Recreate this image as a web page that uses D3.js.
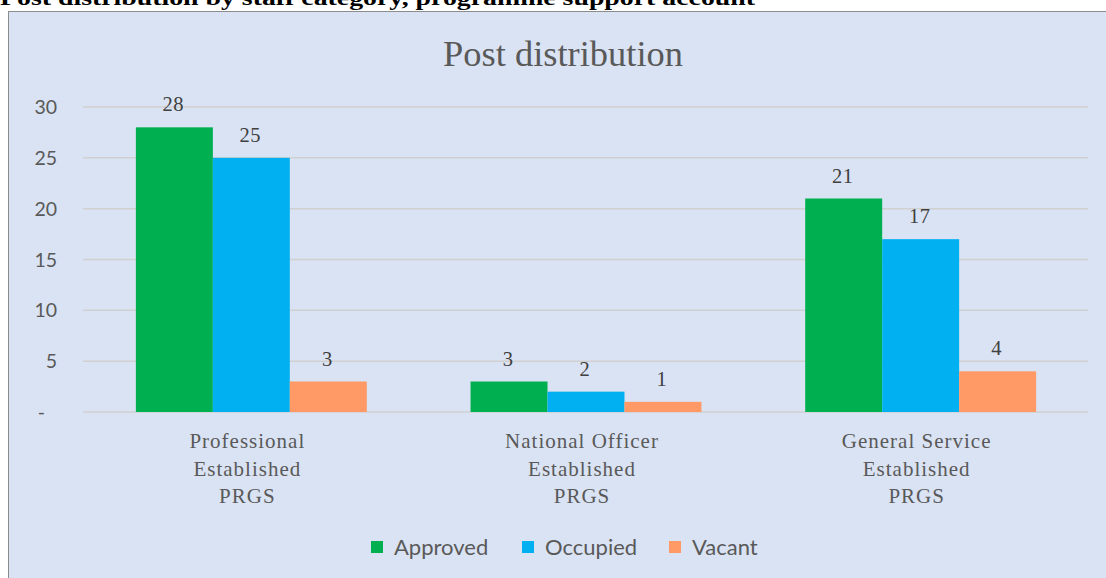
<!DOCTYPE html>
<html>
<head>
<meta charset="utf-8">
<script src="https://cdn.jsdelivr.net/npm/d3@7"></script>
<style>
body { margin: 0; background: #fff; overflow: hidden; }
</style>
</head>
<body>
<svg id="chart" width="1106" height="578"></svg>
<script>
const categories = [["Professional", "Established", "PRGS"], ["National Officer", "Established", "PRGS"], ["General Service", "Established", "PRGS"]];
const seriesNames = ["Approved", "Occupied", "Vacant"];
const approved = [28, 3, 21];
const occupied = [25, 2, 17];
const vacant = [3, 1, 4];
const yTicks = [0, 5, 10, 15, 20, 25, 30];
const colors = ["#00B050", "#00B0F0", "#FF9966"];

const svg = d3.select("#chart");
const sans = "Lato, 'Open Sans', sans-serif";
const serif = "'Liberation Serif', 'DejaVu Serif', serif";

// page heading, cut off at the top like the source
svg.append("text").attr("x", 0).attr("y", 5).attr("font-family", serif).attr("font-weight", "bold")
    .attr("font-size", 22).attr("textLength", 755).attr("lengthAdjust", "spacingAndGlyphs")
    .text("Post distribution by staff category, programme support account");

// chart box
svg.append("rect").attr("x", 8.5).attr("y", 11.5).attr("width", 1110).attr("height", 580)
    .attr("fill", "#DAE3F3").attr("stroke", "#8c8c8c").attr("stroke-width", 1);

svg.append("text").attr("x", 563).attr("y", 66).attr("text-anchor", "middle")
    .attr("font-family", serif).attr("font-size", 35).attr("fill", "#595959")
    .attr("textLength", 240).attr("lengthAdjust", "spacingAndGlyphs").text("Post distribution");

const x0 = d3.scaleBand().domain(d3.range(categories.length)).range([84, 1088]).paddingInner(0.31).paddingOuter(0.155);
const x1 = d3.scaleBand().domain(seriesNames).range([0, x0.bandwidth()]);
const y = d3.scaleLinear().domain([0, 30]).range([412, 107]);

// gridlines + y labels
const grid = svg.append("g");
grid.selectAll("line").data(yTicks).join("line")
    .attr("x1", 83).attr("x2", 1088).attr("y1", d => y(d)).attr("y2", d => y(d))
    .attr("stroke", "#d0d0d0").attr("stroke-width", 1.5);
grid.selectAll("text").data(yTicks).join("text")
    .attr("x", d => d === 0 ? 45 : 57).attr("y", d => y(d)).attr("dy", "0.36em").attr("text-anchor", "end")
    .attr("font-family", sans).attr("font-size", 19.5).attr("fill", "#595959")
    .text(d => d === 0 ? "-" : d);

const values = [approved, occupied, vacant];
const groups = svg.append("g").selectAll("g").data(categories).join("g")
    .attr("transform", (d, i) => `translate(${x0(i)},0)`);

seriesNames.forEach((s, si) => {
    groups.append("rect").attr("x", x1(s)).attr("width", x1.bandwidth())
        .attr("y", (d, i) => y(values[si][i])).attr("height", (d, i) => y(0) - y(values[si][i]))
        .attr("fill", colors[si]);
    groups.append("text").attr("x", x1(s) + x1.bandwidth() / 2 - 1).attr("y", (d, i) => y(values[si][i]) - 16)
        .attr("text-anchor", "middle").attr("font-family", serif).attr("font-size", 20.5).attr("fill", "#404040")
        .attr("letter-spacing", 0.5)
        .text((d, i) => values[si][i]);
});

// category labels
groups.each(function (d) {
    const t = d3.select(this).append("text").attr("text-anchor", "middle")
        .attr("font-family", serif).attr("font-size", 21).attr("fill", "#595959").attr("letter-spacing", 1);
    d.forEach((line, li) => {
        t.append("tspan").attr("x", x0.bandwidth() / 2 - 4).attr("y", 448 + li * 27.5).text(line);
    });
});

// legend
const legendX = [371, 522, 669];
const legend = svg.append("g").selectAll("g").data(seriesNames).join("g")
    .attr("transform", (d, i) => `translate(${legendX[i]},541)`);
legend.append("rect").attr("width", 12).attr("height", 12).attr("fill", (d, i) => colors[i]);
legend.append("text").attr("x", 23).attr("y", 6).attr("dy", "0.36em")
    .attr("font-family", sans).attr("font-size", 22).attr("fill", "#595959").text(d => d);
</script>
</body>
</html>
